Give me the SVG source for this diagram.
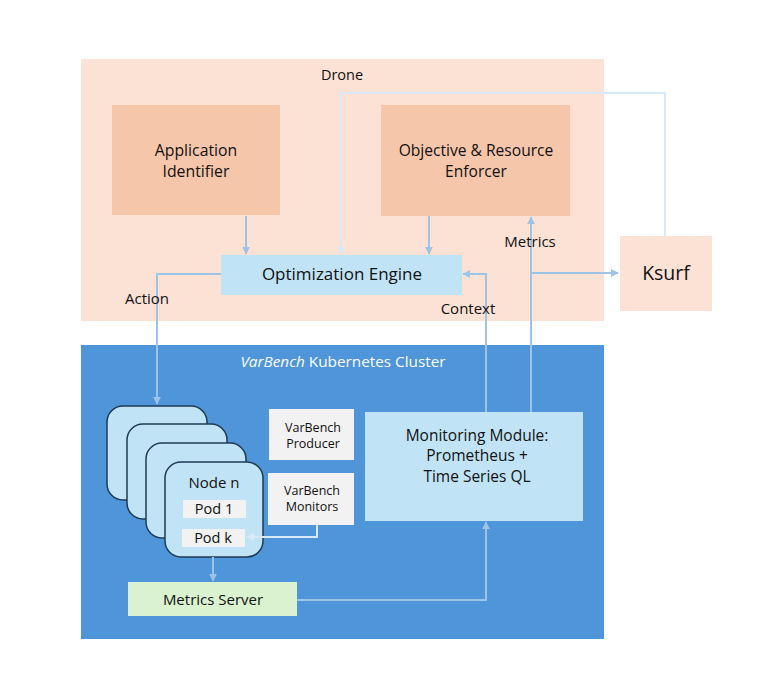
<svg xmlns="http://www.w3.org/2000/svg" width="774" height="696" viewBox="0 0 774 696">
<defs>
<style>
text{font-family:"Open Sans","Liberation Sans",Arial,sans-serif;fill:#111;text-anchor:middle}
.c{fill:none;stroke:#9DC3E6;stroke-width:2}
.cl{fill:none;stroke:#DAE9F7;stroke-width:2}
.node{fill:#C0E4F5;stroke:#1F3A55;stroke-width:1.5}
.pod{fill:#F2F2F2}
</style>
<marker id="a" viewBox="0 0 10 10" refX="9" refY="5" markerWidth="4" markerHeight="4" orient="auto"><path d="M0,0L10,5L0,10z" fill="#9DC3E6"/></marker>
<marker id="al" viewBox="0 0 10 10" refX="9" refY="5" markerWidth="4" markerHeight="4" orient="auto"><path d="M0,0L10,5L0,10z" fill="#DAE9F7"/></marker>
</defs>
<rect width="774" height="696" fill="#fff"/>
<g id="drone">
<rect x="81" y="59" width="523" height="262" fill="#FBE2D5"/>
<text x="342" y="80" font-size="14.5">Drone</text>
</g>
<g id="cluster">
<rect x="81" y="345" width="523" height="294" fill="#4E95D9"/>
<text x="343" y="367" font-size="15.3" style="fill:#fff"><tspan font-style="italic">VarBench</tspan> Kubernetes Cluster</text>
</g>
<g id="app-identifier">
<rect x="112" y="105" width="168" height="110" fill="#F5C6AA"/>
<text x="196" y="156" font-size="15.8">Application</text>
<text x="196" y="177" font-size="15.8">Identifier</text>
</g>
<g id="enforcer">
<rect x="381" y="105" width="189" height="111" fill="#F5C6AA"/>
<text x="476" y="156" font-size="15.6">Objective &amp; Resource</text>
<text x="476" y="177" font-size="15.6">Enforcer</text>
</g>
<g id="opt-engine">
<rect x="221" y="255" width="241" height="40" fill="#C0E4F5"/>
<text x="342" y="280" font-size="17">Optimization Engine</text>
</g>
<g id="ksurf">
<rect x="620" y="236" width="92" height="75" fill="#FBE2D5"/>
<text x="666" y="280" font-size="19.5">Ksurf</text>
</g>
<g id="nodes">
<rect class="node" x="107" y="406" width="100" height="94" rx="16"/>
<rect class="node" x="127" y="424" width="100" height="95" rx="16"/>
<rect class="node" x="146" y="443" width="100" height="95" rx="16"/>
<rect class="node" x="165" y="462" width="98" height="95" rx="16"/>
<text x="214" y="488" font-size="15">Node n</text>
<rect class="pod" x="183" y="500" width="63" height="18"/>
<text x="214" y="514" font-size="14.5">Pod 1</text>
<rect class="pod" x="182" y="529" width="63" height="18"/>
<text x="213" y="543" font-size="14.5">Pod k</text>
</g>
<g id="producer">
<rect x="269" y="409" width="85" height="51" fill="#F2F2F2"/>
<text x="313" y="432" font-size="12.5">VarBench</text>
<text x="313" y="448" font-size="12.5">Producer</text>
</g>
<g id="monitors">
<rect x="268" y="473" width="86" height="52" fill="#F2F2F2"/>
<text x="312" y="495" font-size="12.5">VarBench</text>
<text x="312" y="511" font-size="12.5">Monitors</text>
</g>
<g id="monitoring">
<rect x="365" y="412" width="218" height="109" fill="#C0E4F5"/>
<text x="477" y="441" font-size="15.5">Monitoring Module:</text>
<text x="477" y="461" font-size="15.5">Prometheus +</text>
<text x="477" y="482" font-size="15.5">Time Series QL</text>
</g>
<g id="metrics-server">
<rect x="128" y="582" width="169" height="34" fill="#DAF2D0"/>
<text x="213" y="605" font-size="15">Metrics Server</text>
</g>
<g id="connectors">
<path class="c" d="M246,216V254" marker-end="url(#a)"/>
<path class="c" d="M429,216V254" marker-end="url(#a)"/>
<path class="cl" d="M665,236V93H341V254" marker-end="url(#al)"/>
<path class="c" d="M221,274H157V404" marker-end="url(#a)"/>
<path class="c" d="M486,412V274H463" marker-end="url(#a)"/>
<path class="c" d="M531,412V217" marker-end="url(#a)"/>
<path class="c" d="M531,273H618" marker-end="url(#a)"/>
<path class="cl" d="M317,525V537H247" marker-end="url(#al)"/>
<path class="c" d="M213,557V581" marker-end="url(#a)"/>
<path class="c" d="M297,600H486V522" marker-end="url(#a)"/>
<text x="530" y="247" font-size="15">Metrics</text>
<text x="468" y="314" font-size="15">Context</text>
<text x="147" y="304" font-size="15">Action</text>
</g>
</svg>
